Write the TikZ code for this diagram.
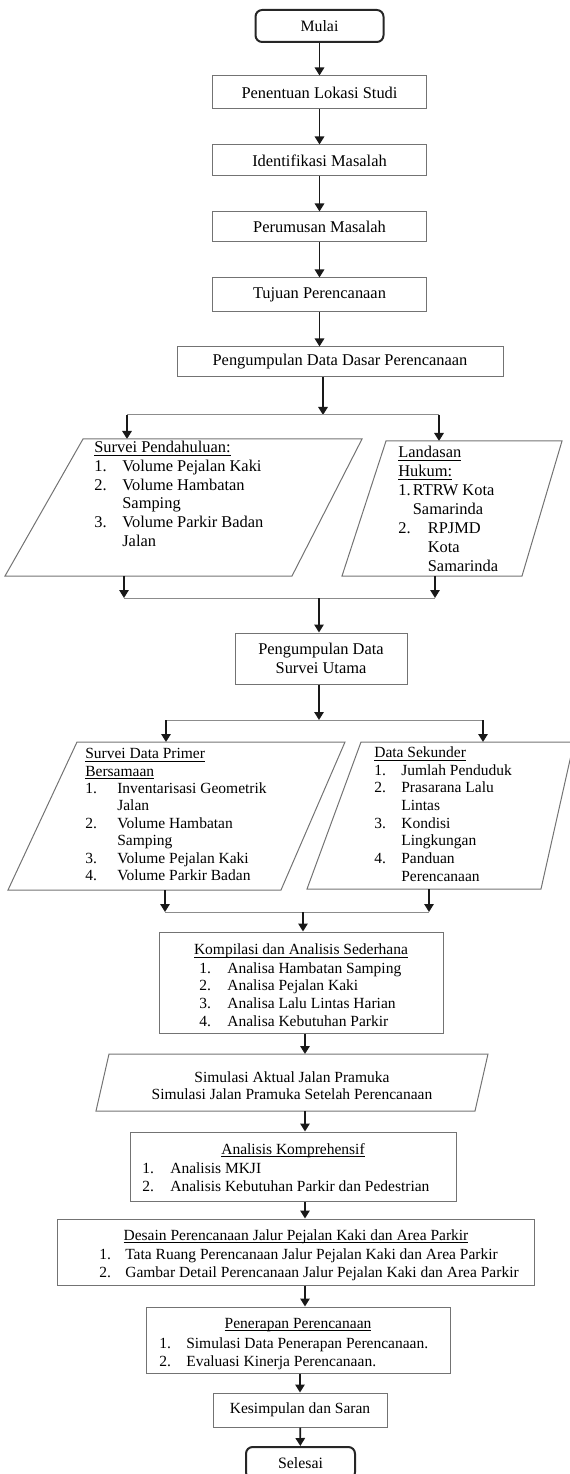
\documentclass[tikz,border=0pt]{standalone}
\usepackage{fontspec}
\setmainfont{Liberation Serif}
\usetikzlibrary{arrows.meta}

\newcommand{\nr}[2][16.8pt]{\makebox[#1][l]{#2}}
\newcommand{\gb}[1]{\underline{\smash{#1}\vphantom{d}}}

\tikzset{
  blok/.style={draw=black!55, line width=0.6pt, inner sep=0pt},
  bidang/.style={draw=black!55, line width=0.6pt},
  ujung/.style={draw=black!85, line width=1.2pt, rounded corners=4pt, inner sep=0pt,
                font=\fontsize{9.5pt}{11pt}\selectfont},
  panah/.style={-{Triangle[length=4.8pt,width=5.6pt]}, line width=1.1pt, black!90},
  garis/.style={draw=black!45, line width=0.6pt},
  daftar/.style={anchor=north west, align=left, inner sep=0pt},
  judul/.style={anchor=north, inner sep=0pt, font=\fontsize{9.3pt}{10.6pt}\selectfont},
}

\begin{document}
\begin{tikzpicture}[x=0.6pt,y=-0.6pt,font=\fontsize{9.85pt}{11.1pt}\selectfont]
  \useasboundingbox (0,0) rectangle (569,1474);

  % tahap awal
  \node[ujung, minimum width=76.8pt, minimum height=19.2pt] (mulai) at (319.5,26) {Mulai};
  \node[blok, minimum width=128.4pt, minimum height=19.8pt] (lokasi) at (319.5,92.5) {Penentuan Lokasi Studi};
  \node[blok, minimum width=128.4pt, minimum height=18.6pt] (identifikasi) at (319.5,160.5) {Identifikasi Masalah};
  \node[blok, minimum width=128.4pt, minimum height=18pt] (rumusan) at (319.5,227) {Perumusan Masalah};
  \node[blok, minimum width=128.4pt, minimum height=20.4pt] (tujuan) at (319.5,295) {Tujuan Perencanaan};
  \node[blok, minimum width=195.6pt, minimum height=18pt] (dasar) at (340,362) {Pengumpulan Data Dasar Perencanaan};

  \draw[panah] (mulai) -- (lokasi);
  \draw[panah] (lokasi) -- (identifikasi);
  \draw[panah] (identifikasi) -- (rumusan);
  \draw[panah] (rumusan) -- (tujuan);
  \draw[panah] (tujuan) -- (tujuan |- dasar.north);

  % cabang pertama
  \coordinate (cabang1) at (323,415);
  \coordinate (kiri1) at (127,415);
  \coordinate (kanan1) at (439,415);
  \coordinate (masuk1) at (127,439);
  \coordinate (masuk2) at (439,441);
  \draw[panah] (dasar.south -| cabang1) -- (cabang1);
  \draw[garis] (kiri1) -- (kanan1);
  \draw[panah] (kiri1) -- (masuk1);
  \draw[panah] (kanan1) -- (masuk2);

  \draw[bidang] (83,439) -- (362,439) -- (292,576) -- (5,576) -- cycle;
  \draw[bidang] (386,441) -- (562,441) -- (522,576) -- (342,576) -- cycle;
  \node[daftar, font=\fontsize{9.85pt}{11.2pt}\selectfont] (pendahuluan) at (94,441)
    {\gb{Survei Pendahuluan:}\\ \nr{1.}Volume Pejalan Kaki\\ \nr{2.}Volume Hambatan\\
     \nr{}Samping\\ \nr{3.}Volume Parkir Badan\\ \nr{}Jalan};
  \node[daftar, font=\fontsize{9.85pt}{11.4pt}\selectfont] (landasan) at (398,446)
    {\gb{Landasan}\\ \gb{Hukum:}\\ \nr[8.7pt]{1.}RTRW Kota\\ \nr[8.7pt]{}Samarinda\\
     \nr[17.7pt]{2.}RPJMD\\ \nr[17.7pt]{}Kota\\ \nr[17.7pt]{}Samarinda};

  \coordinate (keluar1) at (124,576);
  \coordinate (keluar2) at (435,576);
  \coordinate (kiri2) at (124,598);
  \coordinate (kanan2) at (435,598);
  \coordinate (cabang2) at (319,598);
  \draw[panah] (keluar1) -- (kiri2);
  \draw[panah] (keluar2) -- (kanan2);
  \draw[garis] (kiri2) -- (kanan2);

  \node[blok, minimum width=103.2pt, minimum height=30.6pt, align=center,
        font=\fontsize{9.85pt}{11.6pt}\selectfont] (utama) at (321,658.5) {Pengumpulan Data\\Survei Utama};
  \draw[panah] (cabang2) -- (cabang2 |- utama.north);

  % cabang kedua
  \coordinate (cabang3) at (319,720);
  \coordinate (kiri3) at (166,720);
  \coordinate (kanan3) at (483,720);
  \coordinate (masuk3) at (166,742);
  \coordinate (masuk4) at (483,742);
  \draw[panah] (utama.south -| cabang3) -- (cabang3);
  \draw[garis] (kiri3) -- (kanan3);
  \draw[panah] (kiri3) -- (masuk3);
  \draw[panah] (kanan3) -- (masuk4);

  \draw[bidang] (77,742) -- (345,742) -- (281,890) -- (8,890) -- cycle;
  \draw[bidang] (361,742) -- (574,742) -- (541,889) -- (307,889) -- cycle;
  \node[daftar, font=\fontsize{9.3pt}{10.45pt}\selectfont] (primer) at (85,747.5)
    {\gb{Survei Data Primer}\\ \gb{Bersamaan}\\ \nr[19.2pt]{1.}Inventarisasi Geometrik\\
     \nr[19.2pt]{}Jalan\\ \nr[19.2pt]{2.}Volume Hambatan\\ \nr[19.2pt]{}Samping\\
     \nr[19.2pt]{3.}Volume Pejalan Kaki\\ \nr[19.2pt]{4.}Volume Parkir Badan};
  \node[daftar, font=\fontsize{9.3pt}{10.6pt}\selectfont] (sekunder) at (374,746.5)
    {\gb{Data Sekunder}\\ \nr[16.2pt]{1.}Jumlah Penduduk\\ \nr[16.2pt]{2.}Prasarana Lalu\\
     \nr[16.2pt]{}Lintas\\ \nr[16.2pt]{3.}Kondisi\\ \nr[16.2pt]{}Lingkungan\\
     \nr[16.2pt]{4.}Panduan\\ \nr[16.2pt]{}Perencanaan};

  \coordinate (keluar3) at (165,890);
  \coordinate (keluar4) at (429,889);
  \coordinate (kiri4) at (165,912);
  \coordinate (kanan4) at (429,912);
  \coordinate (cabang4) at (303,912);
  \draw[panah] (keluar3) -- (kiri4);
  \draw[panah] (keluar4) -- (kanan4);
  \draw[garis] (kiri4) -- (kanan4);

  % analisis
  \node[blok, minimum width=170.4pt, minimum height=60.6pt] (kompilasi) at (301,982.5) {};
  \node[judul] (kompilasi-judul) at (301,943.5) {\gb{Kompilasi dan Analisis Sederhana}};
  \node[daftar, font=\fontsize{9.3pt}{10.6pt}\selectfont] (kompilasi-isi) at (199,962)
    {\nr{1.}Analisa Hambatan Samping\\ \nr{2.}Analisa Pejalan Kaki\\
     \nr{3.}Analisa Lalu Lintas Harian\\ \nr{4.}Analisa Kebutuhan Parkir};
  \draw[panah] (cabang4) -- (cabang4 |- kompilasi.north);

  \coordinate (tengah) at (305,0);
  \coordinate (masuk5) at (305,1054);
  \coordinate (keluar5) at (305,1111);
  \draw[panah] (kompilasi.south -| tengah) -- (masuk5);
  \draw[bidang] (109,1054) -- (488,1054) -- (475,1111) -- (96,1111) -- cycle;
  \node[align=center, inner sep=0pt, font=\fontsize{9.3pt}{10.2pt}\selectfont] (simulasi) at (292,1086)
    {Simulasi Aktual Jalan Pramuka\\ Simulasi Jalan Pramuka Setelah Perencanaan};

  \node[blok, minimum width=195.6pt, minimum height=41.4pt] (analisis) at (293,1166.5) {};
  \node[judul] (analisis-judul) at (293,1143) {\gb{Analisis Komprehensif}};
  \node[daftar, font=\fontsize{9.3pt}{10.8pt}\selectfont] (analisis-isi) at (142,1162)
    {\nr{1.}Analisis MKJI\\ \nr{2.}Analisis Kebutuhan Parkir dan Pedestrian};
  \draw[panah] (keluar5) -- (keluar5 |- analisis.north);

  \node[blok, minimum width=286.2pt, minimum height=39.6pt] (desain) at (295.5,1252) {};
  \node[judul] (desain-judul) at (296,1229) {\gb{Desain Perencanaan Jalur Pejalan Kaki dan Area Parkir}};
  \node[daftar, font=\fontsize{9.3pt}{10.8pt}\selectfont] (desain-isi) at (99,1248)
    {\nr[15.6pt]{1.}Tata Ruang Perencanaan Jalur Pejalan Kaki dan Area Parkir\\
     \nr[15.6pt]{2.}Gambar Detail Perencanaan Jalur Pejalan Kaki dan Area Parkir};
  \draw[panah] (analisis.south -| tengah) -- (desain.north -| tengah);

  \node[blok, minimum width=182.4pt, minimum height=39.6pt] (penerapan) at (298,1340) {};
  \node[judul] (penerapan-judul) at (298,1317) {\gb{Penerapan Perencanaan}};
  \node[daftar, font=\fontsize{9.3pt}{11.1pt}\selectfont] (penerapan-isi) at (159,1337)
    {\nr[16.2pt]{1.}Simulasi Data Penerapan Perencanaan.\\ \nr[16.2pt]{2.}Evaluasi Kinerja Perencanaan.};
  \draw[panah] (desain.south -| tengah) -- (penerapan.north -| tengah);

  % tahap akhir
  \node[blok, minimum width=104.4pt, minimum height=20.4pt, font=\fontsize{9.3pt}{11pt}\selectfont]
    (kesimpulan) at (300,1410) {Kesimpulan dan Saran};
  \node[ujung, minimum width=65.4pt, minimum height=19.2pt] (selesai) at (300.5,1463) {Selesai};
  \draw[panah] (penerapan.south -| kesimpulan) -- (kesimpulan);
  \draw[panah] (kesimpulan) -- (selesai);
\end{tikzpicture}
\end{document}
